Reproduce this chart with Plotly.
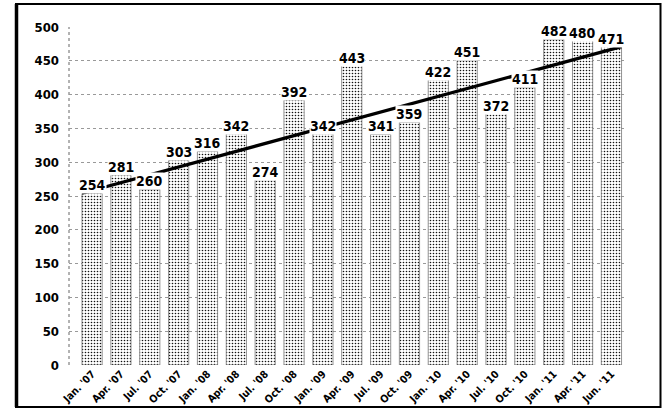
import plotly.graph_objects as go

# Quarterly values
quarters = ["Jan. '07", "Apr. '07", "Jul. '07", "Oct. '07", "Jan. '08", "Apr. '08",
            "Jul. '08", "Oct. '08", "Jan. '09", "Apr. '09", "Jul. '09", "Oct. '09",
            "Jan. '10", "Apr. '10", "Jul. '10", "Oct. '10", "Jan. '11", "Apr. '11",
            "Jun. '11"]
values = [254, 281, 260, 303, 316, 342, 274, 392, 342, 443, 341, 359,
          422, 451, 372, 411, 482, 480, 471]
y_ticks = [0, 50, 100, 150, 200, 250, 300, 350, 400, 450, 500]

FONT = "DejaVu Sans Condensed, Liberation Sans Narrow, Arial Narrow, sans-serif"
W, H = 663, 410
ML, MR, MT, MB = 69, 38, 27, 45
BAR_W = 0.7

xs = list(range(len(values)))

fig = go.Figure()

fig.add_trace(go.Bar(
    x=xs, y=values, width=BAR_W,
    marker=dict(
        color="white",
        line=dict(color="#777", width=0.8),
        pattern=dict(shape=".", fgcolor="#111", bgcolor="white",
                     size=3, solidity=0.22, fillmode="replace"),
    ),
    hoverinfo="skip", showlegend=False,
))

# Straight line from the first to the last quarter across the bars
fig.add_trace(go.Scatter(
    x=[xs[0] - BAR_W / 2, xs[-1] + BAR_W / 2],
    y=[values[0], values[-1]],
    mode="lines", line=dict(color="black", width=3.2),
    hoverinfo="skip", showlegend=False,
))

for x, v in zip(xs, values):
    fig.add_annotation(
        x=x, y=v, text=str(v), showarrow=False, yanchor="bottom", yshift=-1,
        bgcolor="white", borderpad=0,
        font=dict(family=FONT, size=14, color="black", weight="bold"),
    )

# Dotted vertical axis line
fig.add_shape(type="line", xref="x domain", yref="y", x0=0, x1=0, y0=0, y1=500,
              line=dict(color="#666", width=1, dash="dot"), layer="below")

# Outer frame
pw = W - ML - MR
ph = H - MT - MB
def px_x(p):
    return (p - ML) / pw
def px_y(p):
    return (H - MB - p) / ph

fig.add_shape(type="rect", xref="paper", yref="paper",
              x0=px_x(16), x1=px_x(660.5), y0=px_y(407), y1=px_y(4),
              line=dict(color="black", width=2))
fig.add_shape(type="line", xref="paper", yref="paper",
              x0=px_x(16.5), x1=px_x(16.5), y0=px_y(407), y1=px_y(4),
              line=dict(color="black", width=3.5))

fig.update_layout(
    width=W, height=H,
    margin=dict(l=ML, r=MR, t=MT, b=MB),
    paper_bgcolor="white", plot_bgcolor="white",
    font=dict(family=FONT, color="black"),
    xaxis=dict(
        range=[-0.8, 18.47], tickmode="array", tickvals=xs, ticktext=quarters,
        tickangle=-45, showgrid=False, zeroline=False, showline=False, ticks="",
        ticklabelstandoff=0, automargin=False,
        tickfont=dict(family=FONT, size=10.5, color="black", weight="bold"),
    ),
    yaxis=dict(
        range=[0, 500], tickmode="array", tickvals=y_ticks,
        showgrid=True, gridcolor="#999", griddash="dot", gridwidth=1,
        zeroline=False, showline=False, ticks="", ticklabelstandoff=9,
        automargin=False,
        tickfont=dict(family=FONT, size=13, color="black", weight="bold"),
    ),
)

fig.write_html("out.html")
